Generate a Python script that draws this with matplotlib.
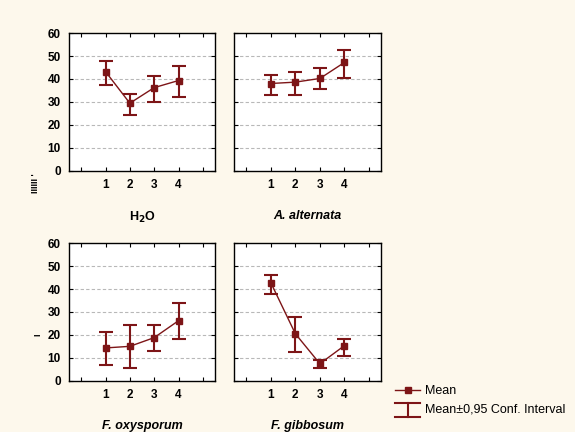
import matplotlib.pyplot as plt
from matplotlib.lines import Line2D
from matplotlib.legend_handler import HandlerBase

groups = ['1', '2', '3', '4']
titles = ['H$_\\mathbf{2}$O', 'A. alternata', 'F. oxysporum', 'F. gibbosum']
italic = [False, True, True, True]

means = [
    [43.2, 29.4, 36.2, 39.3],
    [38.0, 38.6, 40.2, 47.2],
    [14.3, 15.0, 18.8, 26.2],
    [42.8, 20.5, 7.4, 15.3],
]
upper = [
    [48.0, 33.2, 41.4, 45.7],
    [41.5, 43.1, 44.8, 52.7],
    [21.2, 24.2, 24.2, 33.8],
    [46.1, 27.7, 9.0, 18.3],
]
lower = [
    [37.4, 24.2, 30.0, 31.9],
    [32.9, 32.9, 35.4, 40.5],
    [7.0, 5.7, 13.0, 18.2],
    [37.7, 12.4, 5.7, 10.6],
]

RED = '#7d1517'
BG = '#fdf8ec'


class CIHandle:
    pass


class HandlerCI(HandlerBase):
    # draws an I-beam shaped handle like the errorbar caps
    def create_artists(self, legend, orig_handle, xdescent, ydescent,
                       width, height, fontsize, trans):
        cx = width / 2 - xdescent
        top = height * 1.1
        bot = -height * 0.45
        lines = [
            Line2D([-xdescent, width - xdescent], [top, top]),
            Line2D([-xdescent, width - xdescent], [bot, bot]),
            Line2D([cx, cx], [bot, top]),
        ]
        for ln in lines:
            ln.set_color(RED)
            ln.set_linewidth(1.5)
            ln.set_transform(trans)
        return lines


plt.rcParams['font.family'] = ['Liberation Sans', 'DejaVu Sans']

fig = plt.figure(figsize=(5.75, 4.32), dpi=100, facecolor=BG)

boxes = [
    (0.120, 0.6053, 0.254, 0.318),
    (0.407, 0.6053, 0.256, 0.318),
    (0.120, 0.1188, 0.254, 0.318),
    (0.407, 0.1188, 0.256, 0.318),
]

for i, box in enumerate(boxes):
    ax = fig.add_axes(box)
    ax.set_facecolor('white')
    xs = [1, 2, 3, 4]
    m = means[i]
    yerr = [[m[k] - lower[i][k] for k in range(4)],
            [upper[i][k] - m[k] for k in range(4)]]
    ax.plot(xs, m, color=RED, lw=1.0, zorder=3)
    ax.errorbar(xs, m, yerr=yerr, fmt='none', ecolor=RED, elinewidth=1.5,
                capsize=5, capthick=1.5, zorder=3)
    ax.plot(xs, m, 's', color=RED, ms=5, zorder=4)
    ax.set_xlim(-0.5, 5.5)
    ax.set_ylim(0, 60)
    ax.set_xticks(range(6))
    ax.set_xticklabels(['', '1', '2', '3', '4', ''])
    ax.set_yticks(range(0, 61, 10))
    for y in range(10, 60, 10):
        ax.axhline(y, color='#b8b8b8', lw=0.8, ls=(0, (3, 2)), zorder=1)
    ax.tick_params(direction='in', length=3, top=True, right=True,
                   labelsize=8.5, pad=6, width=0.8)
    for lab in ax.get_xticklabels() + ax.get_yticklabels():
        lab.set_fontweight('bold')
    if i % 2 == 1:
        ax.set_yticklabels([])
    for s in ax.spines.values():
        s.set_linewidth(1.0)
    ax.set_xlabel(titles[i], fontsize=9, fontweight='bold',
                  fontstyle='italic' if italic[i] else 'normal', labelpad=14)

fig.text(0.061, 0.575, "IIIIII '", rotation=90, fontsize=6.5, fontweight='bold',
         ha='center', va='center')
fig.text(0.066, 0.225, "I", rotation=90, fontsize=6.5, fontweight='bold',
         ha='center', va='center')

h1 = Line2D([], [], marker='s', color=RED, ms=5, lw=1.0)
h2 = CIHandle()
fig.legend([h1, h2], ['Mean', 'Mean\u00b10,95 Conf. Interval'],
           handler_map={CIHandle: HandlerCI()},
           loc='upper left', bbox_to_anchor=(0.687, 0.108),
           frameon=False, fontsize=9, handlelength=2.0, borderpad=0,
           handletextpad=0.4, labelspacing=0.5, borderaxespad=0)

fig.savefig('out.png', dpi=100, facecolor=BG)
